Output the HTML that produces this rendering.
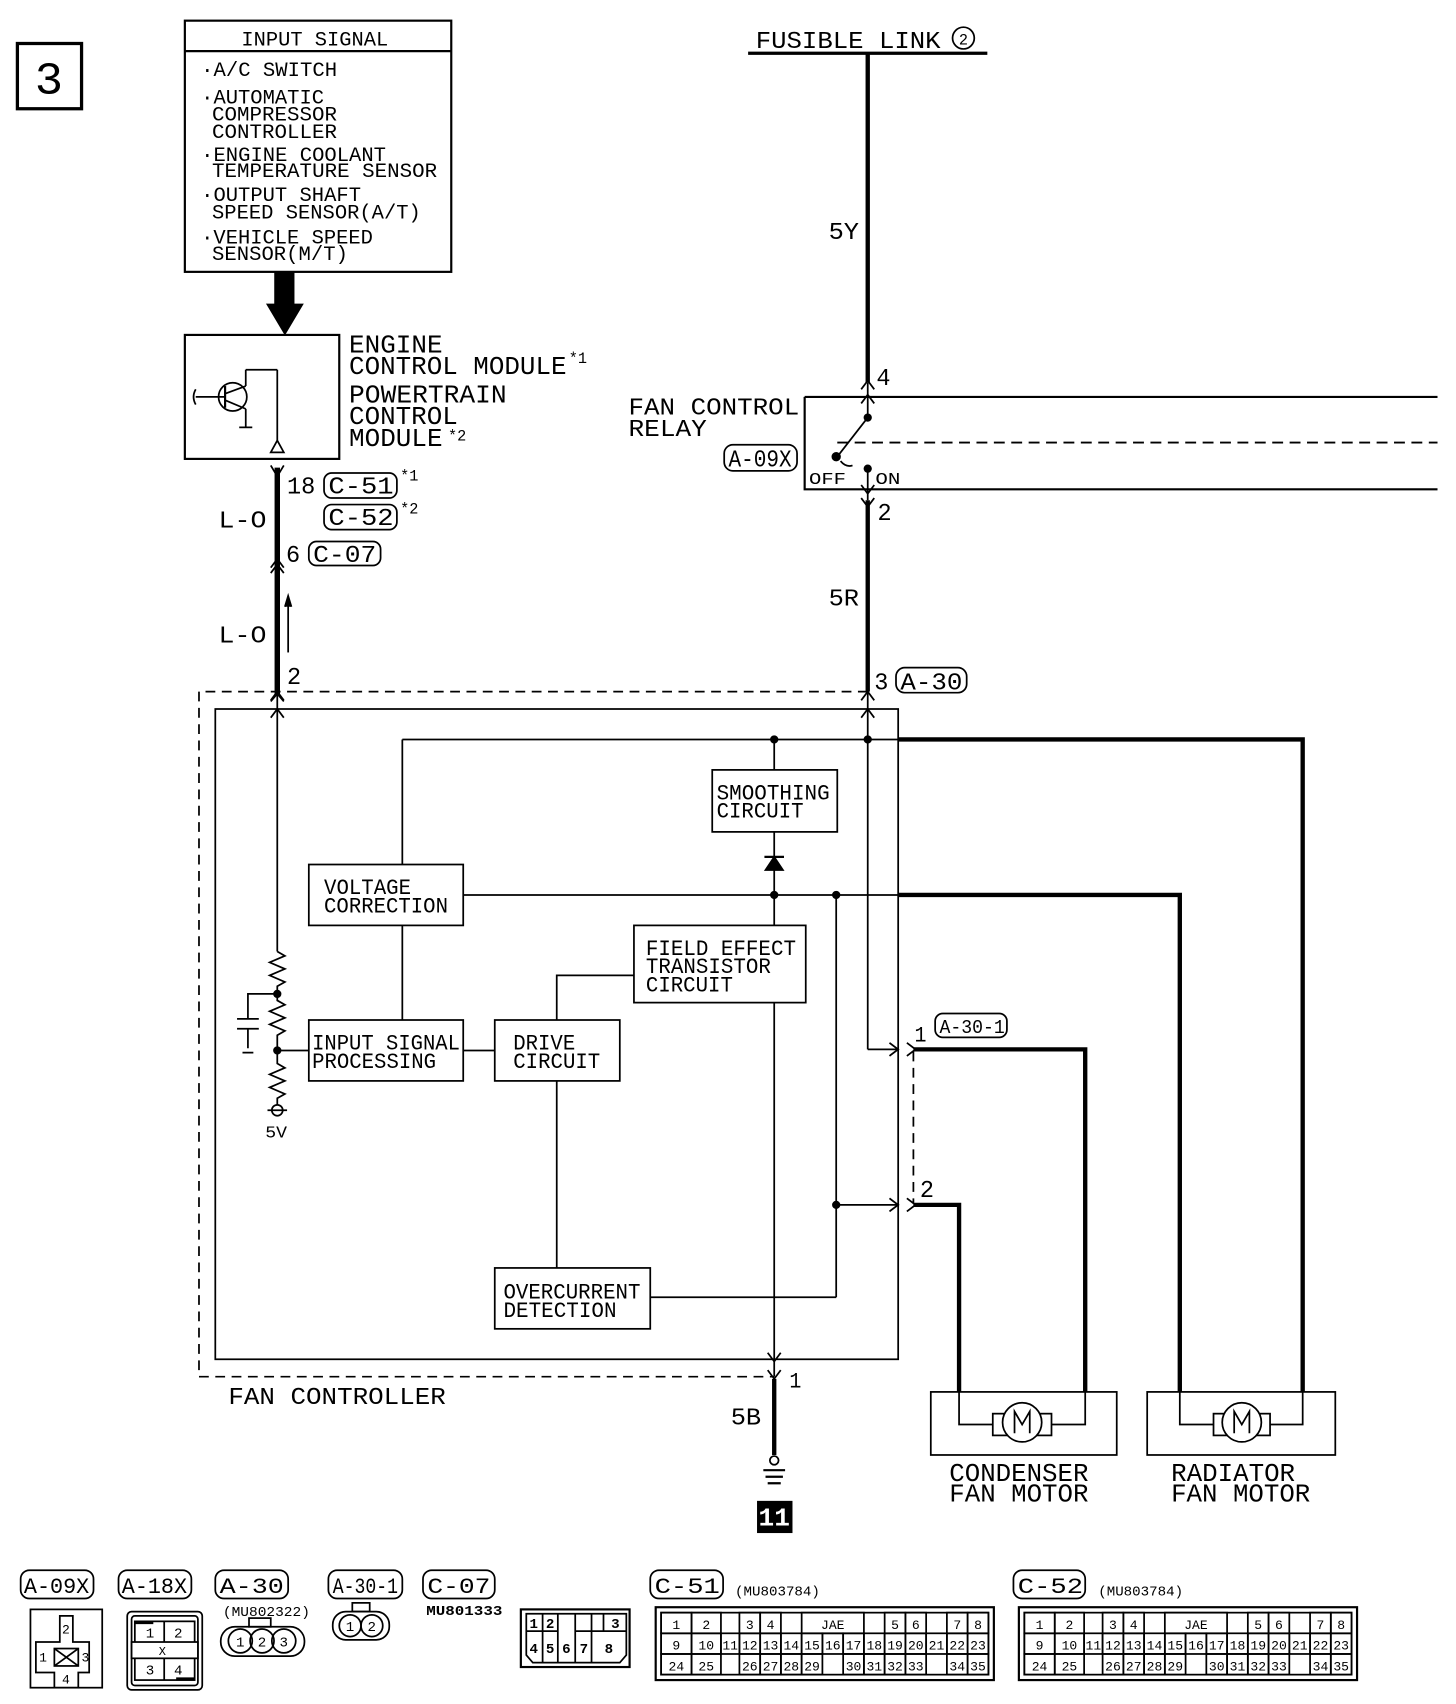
<!DOCTYPE html>
<html><head><meta charset="utf-8"><style>
html,body{margin:0;padding:0;background:#fff}
svg{display:block}
text{font-family:"Liberation Mono","DejaVu Sans Mono",monospace;fill:#000}
</style></head><body>
<svg id="s" width="1456" height="1704" viewBox="0 0 1339 1567" preserveAspectRatio="none" xmlns="http://www.w3.org/2000/svg" stroke="#000" fill="none" stroke-width="1.6">
<!-- 3 box -->
<rect x="16" y="40" width="59" height="60" stroke-width="3"/>
<text x="45" y="86" font-size="42" text-anchor="middle" stroke="none" textLength="26" lengthAdjust="spacingAndGlyphs">3</text>

<!-- input signal box -->
<rect x="170" y="19" width="245" height="231" stroke-width="2"/>
<line x1="170" y1="47" x2="415" y2="47" stroke-width="2"/>
<g stroke="none" font-size="19">
<text x="222" y="42" textLength="135" lengthAdjust="spacingAndGlyphs">INPUT SIGNAL</text>
<text x="185" y="70" textLength="125" lengthAdjust="spacingAndGlyphs">·A/C SWITCH</text>
<text x="185" y="95" textLength="113" lengthAdjust="spacingAndGlyphs">·AUTOMATIC</text>
<text x="195" y="111" textLength="115" lengthAdjust="spacingAndGlyphs">COMPRESSOR</text>
<text x="195" y="127" textLength="115" lengthAdjust="spacingAndGlyphs">CONTROLLER</text>
<text x="185" y="148" textLength="170" lengthAdjust="spacingAndGlyphs">·ENGINE COOLANT</text>
<text x="195" y="163" textLength="207" lengthAdjust="spacingAndGlyphs">TEMPERATURE SENSOR</text>
<text x="185" y="185" textLength="147" lengthAdjust="spacingAndGlyphs">·OUTPUT SHAFT</text>
<text x="195" y="201" textLength="192" lengthAdjust="spacingAndGlyphs">SPEED SENSOR(A/T)</text>
<text x="185" y="224" textLength="158" lengthAdjust="spacingAndGlyphs">·VEHICLE SPEED</text>
<text x="195" y="239" textLength="125" lengthAdjust="spacingAndGlyphs">SENSOR(M/T)</text>
</g>
<rect x="253" y="250" width="17" height="30" fill="#000"/>
<polygon points="246,280 278,280 262,307" fill="#000"/>

<!-- ECM -->
<rect x="170" y="308" width="142" height="114" stroke-width="2"/>
<circle cx="214" cy="365" r="13"/>
<line x1="180" y1="365" x2="207" y2="365"/>
<path d="M180 358 Q176 365 180 372"/>
<line x1="207" y1="355" x2="207" y2="375" stroke-width="2"/>
<line x1="207" y1="362" x2="226" y2="355"/>
<line x1="207" y1="368" x2="226" y2="376"/>
<line x1="226" y1="376" x2="226" y2="393"/>
<line x1="220" y1="393" x2="232" y2="393"/>
<line x1="226" y1="355" x2="226" y2="340"/>
<line x1="226" y1="340" x2="255" y2="340"/>
<line x1="255" y1="340" x2="255" y2="405"/>
<polygon points="255,405 249,416 261,416"/>
<g stroke="none" font-size="24">
<text x="321" y="324" textLength="86" lengthAdjust="spacingAndGlyphs">ENGINE</text>
<text x="321" y="344" textLength="200" lengthAdjust="spacingAndGlyphs">CONTROL MODULE</text>
<text x="523" y="334" font-size="14">*1</text>
<text x="321" y="370" textLength="145" lengthAdjust="spacingAndGlyphs">POWERTRAIN</text>
<text x="321" y="390" textLength="100" lengthAdjust="spacingAndGlyphs">CONTROL</text>
<text x="321" y="410" textLength="86" lengthAdjust="spacingAndGlyphs">MODULE</text>
<text x="412" y="405" font-size="14">*2</text>
</g>

<!-- L-O wire -->
<line x1="255" y1="430" x2="255" y2="640" stroke-width="5"/>
<path d="M249 428 L255 438 L261 428"/>
<path d="M249 522 L255 514 L261 522 M249 527 L255 519 L261 527"/>
<path d="M249 645 L255 638 L261 645"/>
<line x1="265" y1="600" x2="265" y2="550"/>
<path d="M262 558 L265 548 L268 558" fill="#000"/>
<g stroke="none" font-size="22">
<text x="264" y="454" textLength="26" lengthAdjust="spacingAndGlyphs">18</text>
<text x="302" y="454" textLength="60" lengthAdjust="spacingAndGlyphs">C-51</text>
<text x="302" y="483" textLength="60" lengthAdjust="spacingAndGlyphs">C-52</text>
<text x="368" y="442" font-size="14">*1</text>
<text x="368" y="472" font-size="14">*2</text>
<text x="263" y="517" textLength="13" lengthAdjust="spacingAndGlyphs">6</text>
<text x="288" y="517" textLength="58" lengthAdjust="spacingAndGlyphs">C-07</text>
<text x="201" y="485" textLength="44" lengthAdjust="spacingAndGlyphs">L-O</text>
<text x="201" y="591" textLength="44" lengthAdjust="spacingAndGlyphs">L-O</text>
<text x="264" y="629" textLength="13" lengthAdjust="spacingAndGlyphs">2</text>
</g>
<rect x="298" y="435" width="67" height="23" rx="7"/>
<rect x="298" y="464" width="67" height="23" rx="7"/>
<rect x="284" y="498" width="66" height="22" rx="7"/>

<!-- fusible link -->
<text x="695" y="44" font-size="22" stroke="none" textLength="170" lengthAdjust="spacingAndGlyphs">FUSIBLE LINK</text>
<circle cx="886" cy="35" r="10"/>
<text x="886" y="41" font-size="14" stroke="none" text-anchor="middle">2</text>
<line x1="688" y1="49" x2="908" y2="49" stroke-width="3"/>
<line x1="798" y1="49" x2="798" y2="352" stroke-width="4"/>
<g stroke="none" font-size="22">
<text x="762" y="220" textLength="28" lengthAdjust="spacingAndGlyphs">5Y</text>
<text x="806" y="354" textLength="13" lengthAdjust="spacingAndGlyphs">4</text>
<text x="578" y="381" textLength="157" lengthAdjust="spacingAndGlyphs">FAN CONTROL</text>
<text x="578" y="401" textLength="72" lengthAdjust="spacingAndGlyphs">RELAY</text>
<text x="670" y="429" textLength="58" lengthAdjust="spacingAndGlyphs">A-09X</text>
<text x="807" y="478" textLength="13" lengthAdjust="spacingAndGlyphs">2</text>
<text x="762" y="557" textLength="28" lengthAdjust="spacingAndGlyphs">5R</text>
<text x="804" y="634" textLength="13" lengthAdjust="spacingAndGlyphs">3</text>
<text x="828" y="634" textLength="57" lengthAdjust="spacingAndGlyphs">A-30</text>
<text x="744" y="445" font-size="15" textLength="34" lengthAdjust="spacingAndGlyphs">OFF</text>
<text x="805" y="445" font-size="15" textLength="23" lengthAdjust="spacingAndGlyphs">ON</text>
</g>
<rect x="666" y="409" width="67" height="24" rx="8"/>
<rect x="824" y="614" width="65" height="23" rx="8"/>
<path d="M740 365 L1322 365 M740 365 L740 450 L1322 450" stroke-width="2"/>
<line x1="770" y1="407" x2="1322" y2="407" stroke-dasharray="10,6" stroke-width="1.8"/>
<line x1="798" y1="352" x2="798" y2="383"/>
<path d="M792 358 L798 350 L804 358 M792 371 L798 363 L804 371"/>
<circle cx="798" cy="384" r="3" fill="#000"/>
<line x1="798" y1="384" x2="770" y2="420"/>
<circle cx="769" cy="420" r="3.5" fill="#000"/>
<path d="M773 424 Q778 430 784 428"/>
<circle cx="798" cy="431" r="3" fill="#000"/>
<line x1="798" y1="431" x2="798" y2="460"/>
<path d="M792 446 L798 454 L804 446 M792 458 L798 466 L804 458"/>
<line x1="798" y1="460" x2="798" y2="636" stroke-width="4"/>

<!-- fan controller boxes -->
<path d="M798 636 L183 636 L183 1266 L712 1266" stroke-dasharray="9,6"/>
<line x1="840" y1="967" x2="840" y2="1106" stroke-dasharray="9,6"/>
<rect x="198" y="652" width="628" height="598"/>
<path d="M249 644 L255 636 L261 644 M249 660 L255 652 L261 660"/>
<line x1="255" y1="636" x2="255" y2="875"/>
<path d="M792 644 L798 636 L804 644 M792 660 L798 652 L804 660"/>
<line x1="798" y1="636" x2="798" y2="965"/>
<line x1="798" y1="965" x2="826" y2="965"/>
<path d="M818 959 L826 965 L818 971 M834 959 L842 965 L834 971"/>
<line x1="769" y1="1108" x2="826" y2="1108"/>
<path d="M818 1102 L826 1108 L818 1114 M834 1102 L842 1108 L834 1114"/>
<line x1="370" y1="680" x2="826" y2="680"/>
<path d="M826 680 L1198 680 L1198 1280" stroke-width="4"/>
<circle cx="712" cy="680" r="3" fill="#000"/>
<circle cx="798" cy="680" r="3" fill="#000"/>
<line x1="370" y1="680" x2="370" y2="795"/>
<line x1="712" y1="680" x2="712" y2="708"/>
<rect x="655" y="708" width="115" height="57"/>
<line x1="712" y1="765" x2="712" y2="851"/>
<polygon points="704,800 720,800 712,788" fill="#000"/>
<line x1="703" y1="788" x2="721" y2="788" stroke-width="2"/>
<rect x="284" y="795" width="142" height="56"/>
<line x1="426" y1="823" x2="826" y2="823"/>
<path d="M826 823 L1085 823 L1085 1280" stroke-width="4"/>
<circle cx="712" cy="823" r="3" fill="#000"/>
<circle cx="769" cy="823" r="3" fill="#000"/>
<line x1="769" y1="823" x2="769" y2="1193"/>
<circle cx="769" cy="1108" r="3" fill="#000"/>
<line x1="598" y1="1193" x2="769" y2="1193"/>
<rect x="583" y="851" width="158" height="71"/>
<path d="M583 897 L512 897 L512 938"/>
<line x1="712" y1="922" x2="712" y2="1266"/>
<line x1="370" y1="851" x2="370" y2="938"/>
<rect x="284" y="938" width="142" height="56"/>
<rect x="455" y="938" width="115" height="56"/>
<line x1="426" y1="966" x2="455" y2="966"/>
<line x1="512" y1="994" x2="512" y2="1166"/>
<rect x="455" y="1166" width="143" height="56"/>
<path d="M706 1244 L712 1252 L718 1244 M706 1260 L712 1268 L718 1260"/>
<line x1="712" y1="1268" x2="712" y2="1338" stroke-width="4"/>
<circle cx="712" cy="1343" r="4"/>
<path d="M702 1352 L722 1352 M704 1358 L720 1358 M706 1364 L718 1364" stroke-width="2"/>
<rect x="697" y="1381" width="31" height="28" fill="#000"/>
<text x="712" y="1403" font-size="24" font-weight="bold" text-anchor="middle" stroke="none" style="fill:#fff">11</text>
<!-- resistor network -->
<path d="M255 875 L262 879 L248 885 L262 891 L248 897 L262 903 L255 907 L255 920 L262 924 L248 930 L262 936 L248 942 L262 948 L255 952 L255 978 L262 982 L248 988 L262 994 L248 1000 L262 1006 L255 1010 L255 1016"/>
<circle cx="255" cy="914" r="3" fill="#000"/>
<circle cx="255" cy="966" r="3" fill="#000"/>
<line x1="255" y1="966" x2="284" y2="966"/>
<path d="M255 914 L228 914 L228 937 M218 937 L238 937 M218 946 L238 946 M228 946 L228 964 M223 968 L233 968"/>
<circle cx="255" cy="1021" r="5"/>
<line x1="246" y1="1021" x2="264" y2="1021"/>
<g stroke="none" font-size="20">
<text x="659" y="735" textLength="104" lengthAdjust="spacingAndGlyphs">SMOOTHING</text>
<text x="659" y="752" textLength="80" lengthAdjust="spacingAndGlyphs">CIRCUIT</text>
<text x="298" y="822" textLength="80" lengthAdjust="spacingAndGlyphs">VOLTAGE</text>
<text x="298" y="839" textLength="114" lengthAdjust="spacingAndGlyphs">CORRECTION</text>
<text x="594" y="878" textLength="138" lengthAdjust="spacingAndGlyphs">FIELD EFFECT</text>
<text x="594" y="895" textLength="115" lengthAdjust="spacingAndGlyphs">TRANSISTOR</text>
<text x="594" y="912" textLength="80" lengthAdjust="spacingAndGlyphs">CIRCUIT</text>
<text x="287" y="965" textLength="136" lengthAdjust="spacingAndGlyphs">INPUT SIGNAL</text>
<text x="287" y="982" textLength="114" lengthAdjust="spacingAndGlyphs">PROCESSING</text>
<text x="472" y="965" textLength="57" lengthAdjust="spacingAndGlyphs">DRIVE</text>
<text x="472" y="982" textLength="80" lengthAdjust="spacingAndGlyphs">CIRCUIT</text>
<text x="463" y="1194" textLength="126" lengthAdjust="spacingAndGlyphs">OVERCURRENT</text>
<text x="463" y="1211" textLength="104" lengthAdjust="spacingAndGlyphs">DETECTION</text>
<text x="244" y="1046" font-size="15" textLength="20" lengthAdjust="spacingAndGlyphs">5V</text>
<text x="210" y="1291" font-size="22" textLength="200" lengthAdjust="spacingAndGlyphs">FAN CONTROLLER</text>
<text x="726" y="1276" textLength="11" lengthAdjust="spacingAndGlyphs">1</text>
<text x="672" y="1310" font-size="22" textLength="28" lengthAdjust="spacingAndGlyphs">5B</text>
<text x="841" y="958" textLength="11" lengthAdjust="spacingAndGlyphs">1</text>
<text x="846" y="1101" font-size="22" textLength="13" lengthAdjust="spacingAndGlyphs">2</text>
<text x="864" y="950" font-size="18" textLength="60" lengthAdjust="spacingAndGlyphs">A-30-1</text>
</g>
<rect x="860" y="932" width="66" height="22" rx="7"/>
<path d="M840 965 L998 965 L998 1280" stroke-width="4"/>
<path d="M840 1108 L882 1108 L882 1280" stroke-width="4"/>
<!-- motors -->
<rect x="856" y="1280" width="171" height="58"/>
<rect x="1055" y="1280" width="173" height="58"/>
<path d="M882 1280 L882 1310 L913 1310 M998 1280 L998 1310 L967 1310"/>
<path d="M1085 1280 L1085 1310 L1116 1310 M1198 1280 L1198 1310 L1168 1310"/>
<rect x="913" y="1300" width="54" height="20"/>
<circle cx="940" cy="1308" r="18" fill="#fff"/>
<rect x="1116" y="1300" width="52" height="20"/>
<circle cx="1142" cy="1308" r="18" fill="#fff"/>
<path d="M933 1318 L933 1298 L940 1310 L947 1298 L947 1318"/>
<path d="M1135 1318 L1135 1298 L1142 1310 L1149 1298 L1149 1318"/>
<g stroke="none" font-size="24">
<text x="873" y="1362" textLength="128" lengthAdjust="spacingAndGlyphs">CONDENSER</text>
<text x="873" y="1381" textLength="128" lengthAdjust="spacingAndGlyphs">FAN MOTOR</text>
<text x="1077" y="1362" textLength="114" lengthAdjust="spacingAndGlyphs">RADIATOR</text>
<text x="1077" y="1381" textLength="128" lengthAdjust="spacingAndGlyphs">FAN MOTOR</text>
</g>

<!-- bottom connector labels -->
<g stroke="none" font-size="20">
<text x="22" y="1465" textLength="60" lengthAdjust="spacingAndGlyphs">A-09X</text>
<text x="112" y="1465" textLength="60" lengthAdjust="spacingAndGlyphs">A-18X</text>
<text x="202" y="1465" textLength="59" lengthAdjust="spacingAndGlyphs">A-30</text>
<text x="306" y="1465" textLength="60" lengthAdjust="spacingAndGlyphs">A-30-1</text>
<text x="393" y="1465" textLength="58" lengthAdjust="spacingAndGlyphs">C-07</text>
<text x="602" y="1465" textLength="60" lengthAdjust="spacingAndGlyphs">C-51</text>
<text x="936" y="1465" textLength="60" lengthAdjust="spacingAndGlyphs">C-52</text>
<text x="676" y="1467" font-size="13" textLength="78" lengthAdjust="spacingAndGlyphs">(MU803784)</text>
<text x="1010" y="1467" font-size="13" textLength="78" lengthAdjust="spacingAndGlyphs">(MU803784)</text>
<text x="205" y="1486" font-size="13" textLength="80" lengthAdjust="spacingAndGlyphs">(MU802322)</text>
<text x="392" y="1485" font-size="13" font-weight="bold" textLength="70" lengthAdjust="spacingAndGlyphs">MU801333</text>
</g>
<g stroke-width="1.6">
<rect x="19" y="1444" width="67" height="26" rx="8"/>
<rect x="109" y="1444" width="67" height="26" rx="8"/>
<rect x="198" y="1444" width="67" height="26" rx="8"/>
<rect x="302" y="1444" width="68" height="26" rx="8"/>
<rect x="389" y="1444" width="66" height="26" rx="8"/>
<rect x="598" y="1444" width="67" height="26" rx="8"/>
<rect x="932" y="1444" width="66" height="26" rx="8"/>
</g>
<!-- A-09X -->
<rect x="28" y="1480" width="66" height="72"/>
<path d="M55 1486 L67 1486 L67 1510 L82 1510 L82 1538 L72 1538 L72 1552 L50 1552 L50 1538 L33 1538 L33 1510 L55 1510 Z"/>
<rect x="50" y="1516" width="22" height="16"/>
<path d="M50 1516 L72 1532 M72 1516 L50 1532"/>
<g stroke="none" font-size="12"><text x="57" y="1502">2</text><text x="36" y="1528">1</text><text x="75" y="1528">3</text><text x="57" y="1548">4</text></g>
<!-- A-18X -->
<rect x="117" y="1482" width="69" height="72" rx="4"/>
<rect x="121" y="1486" width="61" height="64" rx="3"/>
<rect x="124" y="1491" width="55" height="54"/>
<line x1="151" y1="1491" x2="151" y2="1545"/>
<rect x="121" y="1510" width="61" height="15" fill="#fff"/>
<line x1="124" y1="1492" x2="141" y2="1492" stroke-width="3"/>
<line x1="162" y1="1544" x2="179" y2="1544" stroke-width="3"/>
<g stroke="none" font-size="13"><text x="134" y="1506">1</text><text x="160" y="1506">2</text><text x="134" y="1540">3</text><text x="160" y="1540">4</text><text x="146" y="1522" font-size="11">X</text></g>
<!-- A-30 -->
<rect x="229" y="1488" width="20" height="8"/>
<rect x="203" y="1496" width="77" height="27" rx="13"/>
<circle cx="221" cy="1509" r="11"/><circle cx="241" cy="1509" r="11"/><circle cx="261" cy="1509" r="11"/>
<g stroke="none" font-size="13"><text x="217" y="1514">1</text><text x="237" y="1514">2</text><text x="257" y="1514">3</text></g>
<!-- A-30-1 -->
<rect x="324" y="1474" width="16" height="8"/>
<rect x="306" y="1482" width="52" height="26" rx="12"/>
<circle cx="322" cy="1495" r="10"/><circle cx="342" cy="1495" r="10"/>
<g stroke="none" font-size="13"><text x="318" y="1500">1</text><text x="338" y="1500">2</text></g>
<!-- C-07 -->
<rect x="479" y="1480" width="100" height="53" stroke-width="2"/>
<path d="M484 1484 L576 1484 L576 1522 L570 1529 L490 1529 L484 1522 Z"/>
<path d="M484 1500 L513 1500 M544 1500 L576 1500 M499 1484 L499 1529 M513 1484 L513 1529 M529 1484 L529 1529 M544 1484 L544 1529 M555 1484 L555 1500 M529 1500 L544 1500"/>
<g stroke="none" font-size="13" font-weight="bold"><text x="487" y="1497">1</text><text x="502" y="1497">2</text><text x="562" y="1497">3</text><text x="487" y="1520">4</text><text x="502" y="1520">5</text><text x="517" y="1520">6</text><text x="533" y="1520">7</text><text x="556" y="1520">8</text></g>
<g id="c51"></g>
</svg>
<script>
(function(){
var ns="http://www.w3.org/2000/svg",svg=document.getElementById('c51');
function el(t,a,txt){var e=document.createElementNS(ns,t);for(var k in a)e.setAttribute(k,a[k]);if(txt!==undefined)e.textContent=txt;svg.appendChild(e);return e;}
function conn(ox){
 var X=function(x){return x-603+ox;};
 el('rect',{x:X(603),y:1478,width:311,height:67,'stroke-width':2});
 el('rect',{x:X(608),y:1483,width:301,height:57});
 var cols=[[608,636],[636,663],[663,680]];
 for(var i=0;i<12;i++)cols.push([680+i*19.08,680+(i+1)*19.08]);
 var r0=1483,r1=1502,r2=1521,r3=1540;
 function cell(ci,y0,y1,lab){var c=cols[ci];el('rect',{x:X(c[0]),y:y0,width:c[1]-c[0],height:y1-y0});
  el('text',{x:X((c[0]+c[1])/2),y:y1-4,'font-size':12,'text-anchor':'middle',stroke:'none'},lab);}
 for(var i=0;i<15;i++)cell(i,r1,r2,String(9+i));
 cell(0,r0,r1,'1');cell(1,r0,r1,'2');cell(3,r0,r1,'3');cell(4,r0,r1,'4');
 el('rect',{x:X(cols[6][0]),y:r0,width:cols[8][1]-cols[6][0],height:r1-r0});
 el('text',{x:X((cols[6][0]+cols[8][1])/2),y:r1-4,'font-size':12,'text-anchor':'middle',stroke:'none'},'JAE');
 cell(10,r0,r1,'5');cell(11,r0,r1,'6');cell(13,r0,r1,'7');cell(14,r0,r1,'8');
 cell(0,r2,r3,'24');cell(1,r2,r3,'25');
 var b=[[3,26],[4,27],[5,28],[6,29],[8,30],[9,31],[10,32],[11,33],[13,34],[14,35]];
 b.forEach(function(p){cell(p[0],r2,r3,String(p[1]));});
}
conn(603);conn(937);
})();
</script>
</body></html>
